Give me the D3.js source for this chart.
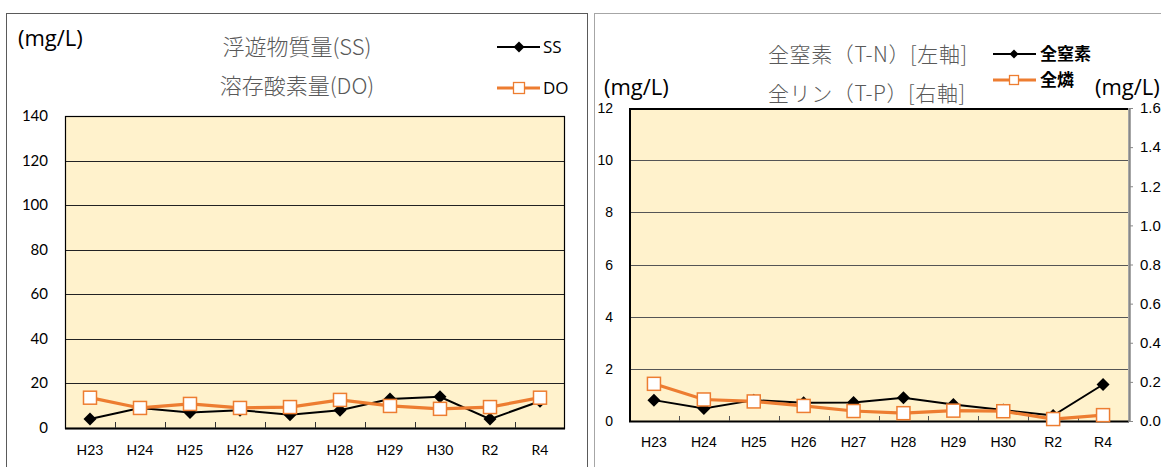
<!DOCTYPE html>
<html><head><meta charset="utf-8">
<script src="https://cdn.jsdelivr.net/npm/d3@7"></script>
<style>body{margin:0;background:#fff}svg{display:block}</style>
</head><body>
<script>
const categories = ["H23","H24","H25","H26","H27","H28","H29","H30","R2","R4"];
const ssValues = [4, 9, 7, 8, 6, 8, 13, 14, 4, 12];
const doValues = [13.6, 9, 10.8, 9, 9.4, 12.6, 9.9, 8.6, 9.4, 13.6];
const tnValues = [0.8, 0.48, 0.8, 0.7, 0.71, 0.89, 0.63, 0.42, 0.21, 1.4];
const tpValues = [0.19, 0.11, 0.10, 0.077, 0.051, 0.04, 0.053, 0.05, 0.01, 0.03];
const leftTicks = [0,20,40,60,80,100,120,140];
const tnTicks = [0,2,4,6,8,10,12];
const tpTicks = [0,0.2,0.4,0.6,0.8,1.0,1.2,1.4,1.6];

const W = 1161, H = 467;
const orange = "#ED7D31", bg = "#FFF2CC";
const svg = d3.select("body").append("svg").attr("width", W).attr("height", H);

svg.append("rect").attr("x",6.5).attr("y",13.5).attr("width",581).attr("height",470)
  .attr("fill","none").attr("stroke","#5a5a5a").attr("stroke-width",1);
svg.append("rect").attr("x",594.5).attr("y",13.5).attr("width",600).attr("height",470)
  .attr("fill","none").attr("stroke","#a6a6a6").attr("stroke-width",1);

function diamond(g, x, y, r){ g.append("path").attr("d",`M${x},${y-r}L${x+r},${y}L${x},${y+r}L${x-r},${y}Z`).attr("fill","#000"); }
function square(g, x, y, s, sw){ g.append("rect").attr("x",x-s/2).attr("y",y-s/2).attr("width",s).attr("height",s)
  .attr("fill","#fff").attr("stroke",orange).attr("stroke-width",sw); }

const tf = "'Noto Sans CJK JP', sans-serif";
const lf = "'Open Sans', sans-serif";

// ---------- LEFT CHART ----------
(function(){
  const x0=65, x1=565, y0=116, y1=428;
  const g = svg.append("g");
  const x = d3.scaleBand().domain(categories).range([x0,x1]);
  const y = d3.scaleLinear().domain([0,140]).range([y1,y0]);
  g.append("rect").attr("x",x0).attr("y",y0).attr("width",x1-x0).attr("height",y1-y0).attr("fill",bg);
  g.append("g").selectAll("line").data(leftTicks.slice(1,-1)).join("line")
    .attr("x1",x0).attr("x2",x1).attr("y1",d=>Math.round(y(d))+0.5).attr("y2",d=>Math.round(y(d))+0.5)
    .attr("stroke","#222").attr("stroke-width",1);
  g.append("rect").attr("x",x0+0.5).attr("y",y0+0.5).attr("width",x1-x0-1).attr("height",y1-y0)
    .attr("fill","none").attr("stroke","#000").attr("stroke-width",1.2);
  g.append("line").attr("x1",x0).attr("x2",x1).attr("y1",y1+0.5).attr("y2",y1+0.5).attr("stroke","#000").attr("stroke-width",2);
  g.append("g").selectAll("line").data(categories.slice(1)).join("line")
    .attr("x1",d=>Math.round(x(d))+0.5).attr("x2",d=>Math.round(x(d))+0.5).attr("y1",y1).attr("y2",y1-6)
    .attr("stroke","#333").attr("stroke-width",1);
  g.append("g").selectAll("text").data(leftTicks).join("text")
    .attr("x",48).attr("y",d=>y(d)+5).attr("text-anchor","end")
    .attr("font-family","Lato, 'Open Sans', sans-serif").attr("font-size",15).attr("fill","#000").text(d=>d);
  g.append("g").selectAll("text").data(categories).join("text")
    .attr("x",d=>x(d)+x.bandwidth()/2).attr("y",455).attr("text-anchor","middle")
    .attr("font-family","Lato, 'Open Sans', sans-serif").attr("font-size",14).attr("fill","#000").text(d=>d);
  const cx = d=>x(d)+x.bandwidth()/2;
  g.append("path").datum(ssValues).attr("fill","none").attr("stroke","#000").attr("stroke-width",2)
    .attr("d",d3.line().x((d,i)=>cx(categories[i])).y(d=>y(d)));
  ssValues.forEach((v,i)=>diamond(g,cx(categories[i]),y(v),6.5));
  g.append("path").datum(doValues).attr("fill","none").attr("stroke",orange).attr("stroke-width",3.2)
    .attr("d",d3.line().x((d,i)=>cx(categories[i])).y(d=>y(d)));
  doValues.forEach((v,i)=>square(g,cx(categories[i]),y(v),13,1.5));
  g.append("text").attr("x",18).attr("y",46).attr("font-family",lf).attr("font-size",22).attr("fill","#000").text("(mg/L)");
  g.append("text").attr("x",297).attr("y",55).attr("text-anchor","middle").attr("font-family",tf).attr("font-weight",300).attr("font-size",22).attr("fill","#595959").text("浮遊物質量(SS)");
  g.append("text").attr("x",297).attr("y",94).attr("text-anchor","middle").attr("font-family",tf).attr("font-weight",300).attr("font-size",22).attr("fill","#595959").text("溶存酸素量(DO)");
  g.append("line").attr("x1",497).attr("x2",540).attr("y1",47).attr("y2",47).attr("stroke","#000").attr("stroke-width",2);
  diamond(g,519,47,5.5);
  g.append("text").attr("x",543).attr("y",53).attr("font-family",lf).attr("font-size",17).attr("fill","#000").text("SS");
  g.append("line").attr("x1",497).attr("x2",540).attr("y1",88).attr("y2",88).attr("stroke",orange).attr("stroke-width",3);
  square(g,519,88,11,1.3);
  g.append("text").attr("x",543).attr("y",94).attr("font-family",lf).attr("font-size",17).attr("fill","#000").text("DO");
})();

// ---------- RIGHT CHART ----------
(function(){
  const x0=629, x1=1128, y0=108, y1=421;
  const g = svg.append("g");
  const x = d3.scaleBand().domain(categories).range([x0,x1]);
  const yL = d3.scaleLinear().domain([0,12]).range([y1,y0]);
  const yR = d3.scaleLinear().domain([0,1.6]).range([y1,y0]);
  const cx = d=>x(d)+x.bandwidth()/2;
  g.append("rect").attr("x",x0).attr("y",y0).attr("width",x1-x0).attr("height",y1-y0).attr("fill",bg);
  g.append("g").selectAll("line").data(tnTicks.slice(1,-1)).join("line")
    .attr("x1",x0).attr("x2",x1).attr("y1",d=>Math.round(yL(d))+0.5).attr("y2",d=>Math.round(yL(d))+0.5)
    .attr("stroke","#555").attr("stroke-width",1);
  g.append("line").attr("x1",x0).attr("x2",x1).attr("y1",y0+1).attr("y2",y0+1).attr("stroke","#000").attr("stroke-width",2);
  g.append("line").attr("x1",x0+1).attr("x2",x0+1).attr("y1",y0).attr("y2",y1+1).attr("stroke","#000").attr("stroke-width",2);
  g.append("line").attr("x1",x0).attr("x2",x1+1).attr("y1",y1+0.5).attr("y2",y1+0.5).attr("stroke","#000").attr("stroke-width",2.2);
  const ra = d3.axisRight(yR).tickValues(tpTicks).tickFormat(d3.format(".1f")).tickSize(4).tickPadding(7);
  const rg = g.append("g").attr("transform",`translate(${x1+1},0)`).call(ra);
  rg.select(".domain").attr("stroke","#888").attr("stroke-width",2.5).attr("d",`M0.5,${y0}V${y1+1}`);
  rg.selectAll(".tick line").attr("stroke","#888");
  rg.selectAll(".tick text").attr("font-family","'Liberation Sans', Arial, sans-serif").attr("font-size",15).attr("fill","#000");
  g.append("g").selectAll("line").data(categories.slice(1)).join("line")
    .attr("x1",d=>Math.round(x(d))+0.5).attr("x2",d=>Math.round(x(d))+0.5).attr("y1",y1).attr("y2",y1-5)
    .attr("stroke","#555").attr("stroke-width",1);
  g.append("g").selectAll("text").data(tnTicks).join("text")
    .attr("x",613).attr("y",d=>yL(d)+5).attr("text-anchor","end")
    .attr("font-family","'Liberation Sans', Arial, sans-serif").attr("font-size",14).attr("fill","#000").text(d=>d);
  g.append("g").selectAll("text").data(categories).join("text")
    .attr("x",d=>cx(d)).attr("y",447).attr("text-anchor","middle")
    .attr("font-family","'Liberation Sans', Arial, sans-serif").attr("font-size",14).attr("fill","#000").text(d=>d);
  g.append("path").datum(tnValues).attr("fill","none").attr("stroke","#000").attr("stroke-width",2)
    .attr("d",d3.line().x((d,i)=>cx(categories[i])).y(d=>yL(d)));
  tnValues.forEach((v,i)=>diamond(g,cx(categories[i]),yL(v),6.5));
  g.append("path").datum(tpValues).attr("fill","none").attr("stroke",orange).attr("stroke-width",3.2)
    .attr("d",d3.line().x((d,i)=>cx(categories[i])).y(d=>yR(d)));
  tpValues.forEach((v,i)=>square(g,cx(categories[i]),yR(v),13,1.5));
  g.append("text").attr("x",604).attr("y",95).attr("font-family",lf).attr("font-size",22).attr("fill","#000").text("(mg/L)");
  g.append("text").attr("x",1095).attr("y",95).attr("font-family",lf).attr("font-size",22).attr("fill","#000").text("(mg/L)");
  g.append("text").attr("x",768).attr("y",62).attr("font-family",tf).attr("font-weight",300).attr("font-size",21).attr("letter-spacing",0.6).attr("fill","#595959").text("全窒素（T-N）[左軸]");
  g.append("text").attr("x",768).attr("y",101).attr("font-family",tf).attr("font-weight",300).attr("font-size",21).attr("letter-spacing",0.6).attr("fill","#595959").text("全リン（T-P）[右軸]");
  g.append("line").attr("x1",993).attr("x2",1036).attr("y1",54).attr("y2",54).attr("stroke","#000").attr("stroke-width",2);
  diamond(g,1014,54,4.5);
  g.append("text").attr("x",1040).attr("y",60).attr("font-family",tf).attr("font-weight",700).attr("font-size",17).attr("fill","#000").text("全窒素");
  g.append("line").attr("x1",993).attr("x2",1036).attr("y1",80).attr("y2",80).attr("stroke",orange).attr("stroke-width",3);
  square(g,1014,80,9,1.3);
  g.append("text").attr("x",1040).attr("y",86).attr("font-family",tf).attr("font-weight",700).attr("font-size",17).attr("fill","#000").text("全燐");
})();
</script>
</body></html>
